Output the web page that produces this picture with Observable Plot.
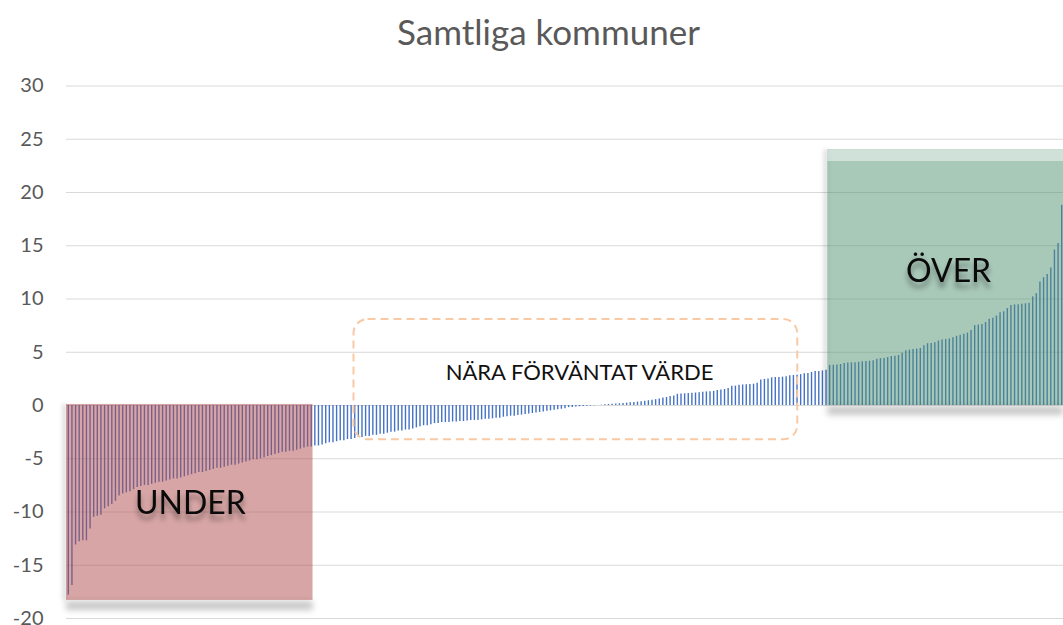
<!DOCTYPE html>
<html><head><meta charset="utf-8">
<script src="https://cdn.jsdelivr.net/npm/d3@7"></script>
<script src="https://cdn.jsdelivr.net/npm/@observablehq/plot@0.6"></script>
<style>html,body{margin:0;padding:0;background:#fff} svg{display:block}</style>
</head><body><div id="chart"></div>
<script>
// Sorted deviation per municipality
const values = [
  -17.8, -16.9, -13.1, -12.8, -12.7, -12.7, -11.6, -10.5, -10.4, -10.3,
  -9.7, -9.5, -9.3, -9.0, -8.5, -8.3, -8.2, -8.1, -7.9, -7.7,
  -7.6, -7.5, -7.5, -7.4, -7.3, -7.2, -7.2, -7.1, -7.0, -6.9,
  -6.9, -6.8, -6.7, -6.6, -6.5, -6.4, -6.3, -6.3, -6.2, -6.1,
  -6.0, -5.9, -5.9, -5.8, -5.7, -5.6, -5.6, -5.5, -5.4, -5.3,
  -5.2, -5.1, -5.1, -5.0, -4.9, -4.8, -4.7, -4.6, -4.5, -4.4,
  -4.4, -4.3, -4.3, -4.2, -4.1, -4.0, -3.9, -3.9, -3.8, -3.8,
  -3.7, -3.6, -3.5, -3.5, -3.4, -3.3, -3.3, -3.2, -3.2, -3.1,
  -3.0, -3.0, -2.9, -2.9, -2.8, -2.8, -2.7, -2.7, -2.6, -2.5,
  -2.5, -2.4, -2.4, -2.3, -2.3, -2.2, -2.1, -2.0, -1.9, -1.9,
  -1.8, -1.7, -1.7, -1.6, -1.6, -1.6, -1.55, -1.55, -1.5, -1.5,
  -1.45, -1.4, -1.4, -1.4, -1.35, -1.3, -1.3, -1.25, -1.2, -1.2,
  -1.1, -1.05, -1.0, -1.0, -0.95, -0.9, -0.85, -0.8, -0.75, -0.7,
  -0.65, -0.6, -0.55, -0.5, -0.45, -0.4, -0.35, -0.3, -0.2, -0.18,
  -0.15, -0.12, -0.1, -0.08, -0.05, -0.02, 0.0, 0.02, 0.08, 0.1,
  0.12, 0.14, 0.16, 0.18, 0.22, 0.25, 0.28, 0.32, 0.36, 0.4,
  0.45, 0.5, 0.55, 0.62, 0.7, 0.75, 0.85, 0.9, 1.05, 1.08,
  1.1, 1.12, 1.15, 1.17, 1.2, 1.25, 1.28, 1.3, 1.33, 1.4,
  1.45, 1.5, 1.6, 1.8, 1.82, 1.9, 1.93, 1.95, 1.97, 2.0,
  2.1, 2.4, 2.45, 2.5, 2.6, 2.62, 2.64, 2.66, 2.7, 2.8,
  2.82, 2.85, 2.9, 2.97, 3.0, 3.1, 3.19, 3.2, 3.25, 3.3,
  3.76, 3.78, 3.8, 3.85, 3.95, 4.0, 4.0, 4.02, 4.05, 4.1,
  4.13, 4.15, 4.2, 4.35, 4.4, 4.42, 4.5, 4.6, 4.62, 4.7,
  4.9, 5.15, 5.2, 5.25, 5.3, 5.35, 5.6, 5.8, 5.82, 5.9,
  6.05, 6.15, 6.2, 6.25, 6.35, 6.5, 6.6, 6.7, 6.8, 7.05,
  7.5, 7.55, 7.6, 7.8, 8.1, 8.2, 8.4, 8.7, 8.8, 9.1,
  9.4, 9.45, 9.45, 9.5, 9.55, 9.6, 10.2, 10.5, 11.6, 12.0,
  12.3, 12.9, 14.6, 15.2, 18.8
];
const yTicks = [-20, -15, -10, -5, 0, 5, 10, 15, 20, 25, 30];
const title = "Samtliga kommuner";

// Highlighted groups: index range of municipalities and value extent
const zoneNames = ["UNDER", "ÖVER"];
const zoneStart = [0, 210];
const zoneEnd = [67, 274];
const zoneLow = [-18.3, 0];
const zoneHigh = [0.1, 24];
const zoneLabelAt = [33.7, 242.8];
const zoneLabelValue = [-9.2, 12.6];

const nearName = "NÄRA FÖRVÄNTAT VÄRDE";
const nearStart = 78.8, nearEnd = 201.2, nearLow = -3.22, nearHigh = 8.07;
const nearLabelAt = 141, nearLabelValue = 3.1;

const data = values.map((v, i) => ({i, v}));
const N = values.length;
const zones = zoneNames.map((name, k) => ({
  name, x1: zoneStart[k] - 0.5, x2: zoneEnd[k] + 0.5,
  low: zoneLow[k], high: zoneHigh[k], at: zoneLabelAt[k], val: zoneLabelValue[k]
}));
const fills = {"UNDER": "#af4b4b", "ÖVER": "#519171"};
const near = [{name: nearName, x1: nearStart, x2: nearEnd, low: nearLow, high: nearHigh, at: nearLabelAt, val: nearLabelValue}];

const chart = Plot.plot({
  width: 1063, height: 625,
  marginLeft: 66, marginRight: 0, marginTop: 85.5, marginBottom: 7,
  x: {type: "linear", domain: [-0.5, N - 0.5], axis: null},
  y: {domain: [-20, 30], axis: null},
  style: {fontFamily: "Lato, sans-serif", color: "#595959", background: "#fff", overflow: "visible"},
  marks: [
    Plot.gridY(yTicks, {stroke: "#d9d9d9", strokeOpacity: 1, strokeWidth: 1.2}),
    Plot.axisY(yTicks, {tickSize: 0, tickPadding: 23, tickFormat: d => String(d), fontSize: 20, fill: "#595959"}),
    Plot.ruleX(data, {x: "i", y1: 0, y2: "v", stroke: "#4472c4", strokeWidth: 1.4}),
    // shadows of boxes
    Plot.ruleY(zones, {y: "low", x1: "x1", x2: "x2", stroke: "#000", strokeOpacity: 0.22, strokeWidth: 9, dy: 5, imageFilter: "blur(3px)"}),
    Plot.ruleX(zones, {x: "x1", y1: "low", y2: "high", stroke: "#000", strokeOpacity: 0.15, strokeWidth: 4, dx: -2, imageFilter: "blur(2px)"}),
    Plot.rect(zones, {x1: "x1", x2: "x2", y1: "low", y2: "high", fill: d => fills[d.name], fillOpacity: 0.5}),
    Plot.ruleY(zones.filter(d => d.high > 1), {y: "high", x1: "x1", x2: "x2", stroke: "#ffffff", strokeOpacity: 0.45, strokeWidth: 11, dy: 5.5}),
    Plot.rect(near, {x1: "x1", x2: "x2", y1: "low", y2: "high", fill: "none", stroke: "#f8c9a4", strokeWidth: 2, strokeDasharray: "8,5", rx: 14}),
    Plot.text(near, {x: "at", y: "val", text: "name", fontSize: 22, fill: "#111"}),
    Plot.text(zones, {x: "at", y: "val", text: "name", fontSize: 32, fill: "#0a0a0a", imageFilter: "drop-shadow(0px 6px 2.5px rgba(0,0,0,0.35))"}),
    Plot.text([title], {frameAnchor: "top", lineAnchor: "middle", dy: -52.5, dx: -16.5, fontSize: 35, fill: "#595959"})
  ]
});
document.getElementById("chart").appendChild(chart);
</script>
</body></html>
